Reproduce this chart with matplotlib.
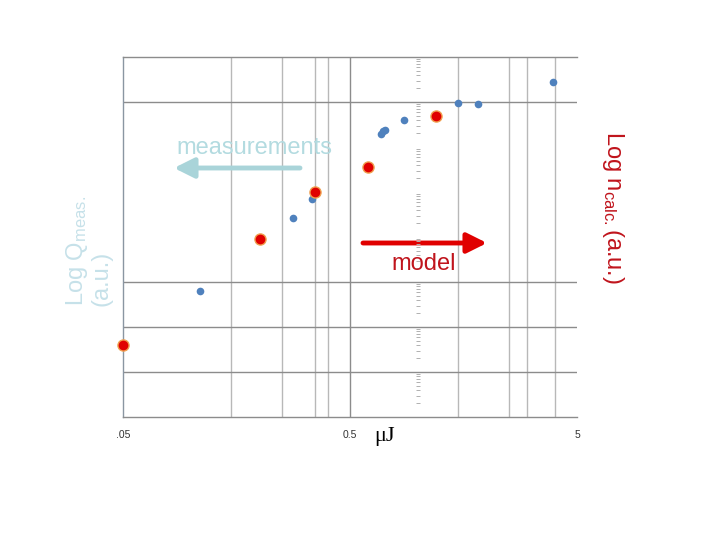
import numpy as np
import matplotlib
matplotlib.use("Agg")
import matplotlib.pyplot as plt
from matplotlib.ticker import LogLocator, NullFormatter, FixedLocator, FixedFormatter

plt.rcParams['font.family'] = ['Liberation Sans', 'DejaVu Sans']
plt.rcParams['mathtext.default'] = 'regular'

# ---- data (x in µJ, y in log units) ----
meas_x = [0.109, 0.28, 0.34, 0.685, 0.70, 0.713, 0.865, 1.5, 1.83, 3.9]
meas_y = [2.79, 4.42, 4.85, 6.28, 6.36, 6.38, 6.59, 6.98, 6.96, 7.45]
model_x = [0.05, 0.2, 0.35, 0.6, 1.2]
model_y = [1.59, 3.95, 5.01, 5.55, 6.70]

xtick_vals = [0.05, 0.5, 5]
xtick_labels = ['.05', '0.5', '5']
vgrid_light = [0.15, 0.25, 0.35, 0.4, 1.5, 2.5, 3, 4]
hgrid_vals = [1, 2, 3, 7]

fig = plt.figure(figsize=(7.2, 5.4), dpi=100)
ax = fig.add_axes([123/720, 1-417/540, 454/720, 360/540])
ax.set_xscale('log')
ax.set_xlim(0.05, 5)
ax.set_ylim(0, 8)

dark = '#8a96a2'
light = '#b8b8b8'

ax.xaxis.set_major_locator(FixedLocator(xtick_vals))
ax.xaxis.set_major_formatter(FixedFormatter(xtick_labels))
ax.xaxis.set_minor_locator(FixedLocator(vgrid_light))
ax.xaxis.set_minor_formatter(NullFormatter())
ax.tick_params(axis='x', which='both', length=0, pad=9, labelsize=7.5, labelcolor='#333333')
ax.grid(True, axis='x', which='minor', color=light, lw=1)
ax.grid(True, axis='x', which='major', color='#8c8c8c', lw=1)
xg = ax.get_xgridlines()
xg[0].set_visible(False)
xg[-1].set_visible(False)

ax.yaxis.set_major_locator(FixedLocator(hgrid_vals))
ax.tick_params(axis='y', which='both', length=0, labelleft=False)
ax.grid(True, axis='y', which='major', color='#8c8c8c', lw=1)

ax.spines['right'].set_visible(False)
ax.spines['left'].set_color(dark)
ax.spines['top'].set_color('#8c8c8c')
ax.spines['bottom'].set_color('#8c8c8c')
for s in ['left', 'top', 'bottom']:
    ax.spines[s].set_linewidth(1)
ax.set_axisbelow(True)

# secondary log axis at x = 1 (minor ticks only)
ax2 = ax.twinx()
ax2.set_yscale('log')
ax2.set_ylim(1, 1e8)
ax2.spines['right'].set_position(('data', 1.0))
for s in ax2.spines.values():
    s.set_visible(False)
ax2.yaxis.set_minor_locator(LogLocator(base=10, subs=np.arange(2, 10)))
ax2.yaxis.set_minor_formatter(NullFormatter())
ax2.tick_params(axis='y', which='major', length=0, labelright=False)
ax2.tick_params(axis='y', which='minor', length=3.5, width=0.7, direction='inout', color='#b0b0b0')

ax.plot(meas_x, meas_y, 'o', color='#4f81bd', markersize=5.5, markeredgewidth=0, zorder=5, clip_on=False)
ax.plot(model_x, model_y, 'o', markerfacecolor='#e00000', markeredgecolor='#f0a050',
        markersize=8, markeredgewidth=1, zorder=6, clip_on=False)

def F(px, py):
    return (px/720, 1 - py/540)

fig.text(*F(254, 148), 'measurements', color='#b3dbe0', fontsize=17, ha='center', va='center')
ax.annotate('', xy=F(174, 168), xytext=F(300, 168), xycoords='figure fraction', textcoords='figure fraction',
            arrowprops=dict(arrowstyle='-|>,head_length=0.6,head_width=0.3', lw=3.5, color='#a9d4d9',
                            mutation_scale=20, shrinkA=0, shrinkB=0))
fig.text(*F(424, 264), 'model', color='#c0141c', fontsize=17, ha='center', va='center')
ax.annotate('', xy=F(487, 243), xytext=F(363, 243), xycoords='figure fraction', textcoords='figure fraction',
            arrowprops=dict(arrowstyle='-|>,head_length=0.6,head_width=0.3', lw=3.5, color='#e00000',
                            mutation_scale=20, shrinkA=0, shrinkB=0))

fig.text(*F(88, 251), 'Log Q$_{meas.}$\n(a.u.)', rotation=90, color='#c6e1e9', fontsize=17,
         ha='center', va='center', multialignment='left', linespacing=1.0)
fig.text(*F(613, 207), 'Log n$_{calc.}$(a.u.)', rotation=-90, color='#c0141c', fontsize=17,
         ha='center', va='center')
fig.text(*F(385, 436), 'μJ', color='black', fontsize=16, ha='center', va='center',
         family=['Liberation Serif', 'DejaVu Serif'])

fig.savefig('out.png', dpi=100)
